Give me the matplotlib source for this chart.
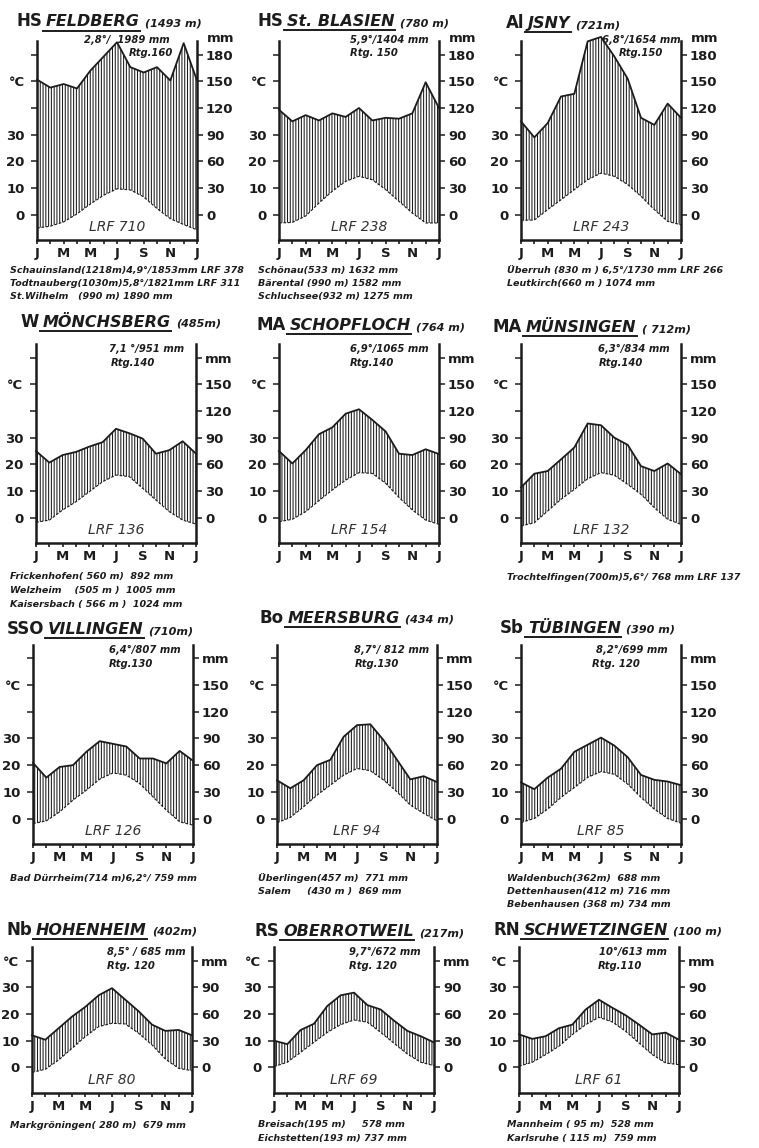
import matplotlib
matplotlib.use("Agg")

import matplotlib.pyplot as plt
from matplotlib.lines import Line2D
import numpy as np

plt.rcParams["font.family"] = ["DejaVu Sans"]
plt.rcParams["hatch.linewidth"] = 0.75

W, H = 759, 1148
INK = "#1c1c1c"

# ---------------- data ----------------
MONTHS = ["J", "", "M", "", "M", "", "J", "", "S", "", "N", "", "J"]

CODES = ["HS", "HS", "Al", "W", "MA", "MA", "SSO", "Bo", "Sb", "Nb", "RS", "RN"]
NAMES = ["FELDBERG", "St. BLASIEN", "JSNY", "MÖNCHSBERG", "SCHOPFLOCH", "MÜNSINGEN",
         "VILLINGEN", "MEERSBURG", "TÜBINGEN", "HOHENHEIM", "OBERROTWEIL", "SCHWETZINGEN"]
HEIGHTS = ["(1493 m)", "(780 m)", "(721m)", "(485m)", "(764 m)", "( 712m)",
           "(710m)", "(434 m)", "(390 m)", "(402m)", "(217m)", "(100 m)"]
ANNUAL = ["2,8°/  1989 mm", "5,9°/1404 mm", "6,8°/1654 mm", "7,1 °/951 mm", "6,9°/1065 mm",
          "6,3°/834 mm", "6,4°/807 mm", "8,7°/ 812 mm", "8,2°/699 mm", "8,5° / 685 mm",
          "9,7°/672 mm", "10°/613 mm"]
RTG = ["Rtg.160", "Rtg. 150", "Rtg.150", "Rtg.140", "Rtg.140", "Rtg.140",
       "Rtg.130", "Rtg.130", "Rtg. 120", "Rtg. 120", "Rtg. 120", "Rtg.110"]
LRF = ["LRF 710", "LRF 238", "LRF 243", "LRF 136", "LRF 154", "LRF 132",
       "LRF 126", "LRF 94", "LRF 85", "LRF 80", "LRF 69", "LRF 61"]
NOTES = [
    ["Schauinsland(1218m)4,9°/1853mm LRF 378",
     "Todtnauberg(1030m)5,8°/1821mm LRF 311",
     "St.Wilhelm   (990 m) 1890 mm"],
    ["Schönau(533 m) 1632 mm", "Bärental (990 m) 1582 mm", "Schluchsee(932 m) 1275 mm"],
    ["Überruh (830 m ) 6,5°/1730 mm LRF 266", "Leutkirch(660 m ) 1074 mm"],
    ["Frickenhofen( 560 m)  892 mm", "Welzheim    (505 m )  1005 mm",
     "Kaisersbach ( 566 m )  1024 mm"],
    [],
    ["Trochtelfingen(700m)5,6°/ 768 mm LRF 137"],
    ["Bad Dürrheim(714 m)6,2°/ 759 mm"],
    ["Überlingen(457 m)  771 mm", "Salem     (430 m )  869 mm"],
    ["Waldenbuch(362m)  688 mm", "Dettenhausen(412 m) 716 mm", "Bebenhausen (368 m) 734 mm"],
    ["Markgröningen( 280 m)  679 mm"],
    ["Breisach(195 m)     578 mm", "Eichstetten(193 m) 737 mm"],
    ["Mannheim ( 95 m)  528 mm", "Karlsruhe ( 115 m)  759 mm"],
]

# monthly temperature (°C) and precipitation (mm), Jan ... Dec, Jan
TEMP_FELDBERG = [-5.0, -4.3, -2.7, 0.3, 4.0, 7.3, 9.7, 9.3, 6.7, 2.3, -1.5, -3.7, -5.7]
PREC_FELDBERG = [152, 143, 147, 142, 162, 178, 194, 166, 160, 166, 151, 193, 151]
TEMP_BLASIEN = [-3.1, -2.9, -0.5, 4.4, 8.8, 12.5, 14.4, 13.1, 9.4, 5.0, 0.6, -3.1, -3.1]
PREC_BLASIEN = [118, 105, 112, 106, 114, 110, 120, 106, 109, 108, 114, 149, 120]
TEMP_ISNY = [-2.1, -2.0, 1.9, 5.6, 9.4, 13.1, 15.6, 14.4, 11.3, 6.9, 1.9, -2.5, -3.8]
PREC_ISNY = [105, 87, 103, 133, 136, 195, 200, 178, 153, 109, 101, 125, 109]
TEMP_MOENCHSBERG = [-1.75, -0.9, 2.9, 6.0, 9.75, 13.5, 16.0, 15.4, 11.0, 6.6, 2.25, -0.9, -2.4]
PREC_MOENCHSBERG = [75, 62, 70.5, 74, 80, 85, 100, 95, 89, 72, 76, 86, 72]
TEMP_SCHOPFLOCH = [-1.5, -0.6, 2.25, 6.4, 10.4, 14.1, 16.9, 16.6, 12.9, 7.6, 2.9, -0.9, -2.5]
PREC_SCHOPFLOCH = [75, 61, 76, 94, 101.6, 117, 122, 110, 97, 72, 70.5, 77, 71.6]
TEMP_MUENSINGEN = [-3.1, -1.9, 2.5, 6.9, 10.6, 14.6, 16.9, 15.9, 12.5, 8.75, 3.75, -0.6, -2.5]
PREC_MUENSINGEN = [34, 49.5, 52.5, 65.6, 79, 106, 104, 90, 82, 58, 52.5, 61, 49]
TEMP_VILLINGEN = [-1.9, -0.9, 2.5, 6.9, 10.6, 14.75, 17.1, 16.25, 13.1, 8.1, 3.1, -1.25, -2.5]
PREC_VILLINGEN = [62.6, 46, 58, 60, 75, 87, 84, 81, 67.5, 67.5, 62, 76, 65]
TEMP_MEERSBURG = [-1.6, 0.4, 4.4, 8.75, 12.5, 16.25, 18.75, 17.9, 14.4, 10.0, 5.0, 1.9, -0.9]
PREC_MEERSBURG = [43, 34, 43, 60, 66, 92, 105, 106, 88, 66, 44, 47.6, 41]
TEMP_TUEBINGEN = [-1.5, 0.0, 3.5, 7.9, 11.6, 15.4, 17.6, 16.6, 12.9, 7.9, 3.5, 0.0, -1.75]
PREC_TUEBINGEN = [40.5, 33, 46, 56, 75, 83, 91, 82, 69, 49, 43.5, 41.6, 37.5]
TEMP_HOHENHEIM = [-1.9, -0.75, 2.75, 7.1, 11.5, 15.25, 16.5, 16.25, 12.75, 8.4, 3.1, -0.4, -1.25]
PREC_HOHENHEIM = [36, 31, 44, 57, 68, 81, 89, 76, 63, 48, 41, 42, 36]
TEMP_OBERROTWEIL = [0.25, 1.9, 5.6, 9.4, 13.1, 16.0, 17.75, 16.9, 13.1, 9.0, 5.0, 1.9, 0.6]
PREC_OBERROTWEIL = [30, 26, 42, 49, 69, 81, 84, 70, 65, 52.5, 41, 35, 28]
TEMP_SCHWETZINGEN = [0.4, 1.9, 4.75, 7.9, 12.25, 16.0, 18.75, 17.0, 13.5, 9.1, 4.75, 1.6, 1.0]
PREC_SCHWETZINGEN = [37, 32, 35, 44, 48, 65, 76, 67, 58.5, 48, 37, 39, 31]

TEMPS = [TEMP_FELDBERG, TEMP_BLASIEN, TEMP_ISNY, TEMP_MOENCHSBERG, TEMP_SCHOPFLOCH,
         TEMP_MUENSINGEN, TEMP_VILLINGEN, TEMP_MEERSBURG, TEMP_TUEBINGEN,
         TEMP_HOHENHEIM, TEMP_OBERROTWEIL, TEMP_SCHWETZINGEN]
PRECS = [PREC_FELDBERG, PREC_BLASIEN, PREC_ISNY, PREC_MOENCHSBERG, PREC_SCHOPFLOCH,
         PREC_MUENSINGEN, PREC_VILLINGEN, PREC_MEERSBURG, PREC_TUEBINGEN,
         PREC_HOHENHEIM, PREC_OBERROTWEIL, PREC_SCHWETZINGEN]

# ---------------- layout (pixels) ----------------
PX_PER_MM = 0.8889
YMIN = -29
ROW_YMAX = [195, 195, 195, 135]
ROW_ZERO = [214.7, 517.7, 818.5, 1067.3]
COL_LEFT = [[37, 279, 521], [36, 279, 521], [33, 277, 521], [32, 274, 519]]
AX_W = 160
TITLE_BASE = [26.5, 26, 28, 327, 330, 332, 634, 623, 633, 935, 936, 935]
NAME_DX = [9, 8, 7, 7, 11, 5, 15, 11, 7, 4, 9, 5]
STAT_X = [3.5, 5.3, 6.1, 5.5, 5.3, 5.8, 5.7, 5.8, 5.6, 5.6, 5.6, 6.0]
RTG_X = [6.9, 5.3, 7.3, 5.6, 5.3, 5.8, 5.7, 5.8, 5.3, 5.6, 5.6, 5.9]
STAT_Y = [(197, 182), (190, 174), (190, 174), (130, 114)]
NOTE_X = [10, 258, 507]
NOTE_Y = [270, 577, 878, 1125]
NOTE_STEP = 13.5


def fig_xy(x, y):
    return x / W, 1 - y / H


fig = plt.figure(figsize=(W / 100, H / 100), dpi=100)
fig.patch.set_facecolor("white")

name_texts = []

for i in range(12):
    row, col = divmod(i, 3)
    ymax = ROW_YMAX[row]
    left = COL_LEFT[row][col]
    zero = ROW_ZERO[row]
    bottom_px = zero - YMIN * PX_PER_MM
    height_px = (ymax - YMIN) * PX_PER_MM
    ax = fig.add_axes([left / W, 1 - bottom_px / H, AX_W / W, height_px / H])

    x = np.arange(13)
    t_mm = np.array(TEMPS[i]) * 3.0
    p = np.array(PRECS[i], dtype=float)

    ax.fill_between(x, t_mm, p, where=p >= t_mm, interpolate=True, clip_on=False,
                    facecolor="none", edgecolor=INK, hatch="||||||", linewidth=0, zorder=1)
    ax.plot(x, p, color=INK, lw=1.3, zorder=3, clip_on=False)
    ax.plot(x, t_mm, color=INK, lw=0.8, ls=(0, (2.5, 1.5)), zorder=3)

    ax.set_xlim(0, 12)
    ax.set_ylim(YMIN, ymax)
    ax.set_facecolor("none")
    ax.spines["top"].set_visible(False)
    for s in ("left", "right", "bottom"):
        ax.spines[s].set_linewidth(1.8)
        ax.spines[s].set_color(INK)

    ax.set_xticks(x, MONTHS, fontsize=9.5, fontweight="bold", color=INK)
    ax.tick_params(axis="x", direction="out", length=3, width=1.2, pad=2, colors=INK)

    yt = np.arange(0, ymax, 30)
    left_labels = ["0", "10", "20", "30"] + [""] * (len(yt) - 4)
    left_labels[5 if row < 3 else 4] = "°C"
    ax.set_yticks(yt, left_labels, fontsize=9.5, fontweight="bold", color=INK)
    ax.tick_params(axis="y", direction="out", length=4, width=1.1, pad=5, colors=INK)

    ax_r = ax.twinx()
    ax_r.set_ylim(YMIN, ymax)
    for s in ax_r.spines.values():
        s.set_visible(False)
    right_labels = [str(int(v)) for v in yt]
    if row > 0:
        right_labels[-1] = "mm"
    ax_r.set_yticks(yt, right_labels, fontsize=9.5, fontweight="bold", color=INK)
    ax_r.tick_params(axis="y", direction="out", length=4, width=1.1, pad=2.5, colors=INK)
    if row == 0:
        ax.text(1.06, 198, "mm", transform=ax.get_yaxis_transform(), fontsize=9.5,
                fontweight="bold", color=INK, ha="left", va="center")

    # in-panel annotations
    sy1, sy2 = STAT_Y[row]
    ax.text(STAT_X[i], sy1, ANNUAL[i], fontsize=7.2, style="italic", fontweight="bold",
            color=INK, ha="left", va="center", zorder=5)
    ax.text(RTG_X[i], sy2, RTG[i], fontsize=7.2, style="italic", fontweight="bold",
            color=INK, ha="left", va="center", zorder=5)
    ax.text(6, -14, LRF[i], fontsize=10, style="italic", color="#333333",
            ha="center", va="center", zorder=5)

    # title: code, underlined name, altitude
    ty = TITLE_BASE[i]
    nx, ny = fig_xy(left + NAME_DX[i], ty)
    name_t = fig.text(nx, ny, NAMES[i], fontsize=11.5, style="italic", fontweight="bold",
                      color=INK, ha="left", va="baseline")
    name_texts.append((name_t, ty))
    ax.annotate(CODES[i], xy=(0, H - ty), xycoords=(name_t, "figure pixels"),
                xytext=(-4, 0), textcoords="offset pixels", fontsize=12, fontweight="bold",
                color=INK, ha="right", va="baseline", annotation_clip=False)
    ax.annotate(HEIGHTS[i], xy=(1, H - ty), xycoords=(name_t, "figure pixels"),
                xytext=(5, 0), textcoords="offset pixels", fontsize=8, style="italic",
                fontweight="bold", color=INK, ha="left", va="baseline", annotation_clip=False)

    # neighbouring stations below the panel
    for j, line in enumerate(NOTES[i]):
        fx, fy = fig_xy(NOTE_X[col], NOTE_Y[row] + NOTE_STEP * j)
        fig.text(fx, fy, line, fontsize=6.8, style="italic", fontweight="bold",
                 color=INK, ha="left", va="center")

# underline station names
fig.canvas.draw()
for name_t, ty in name_texts:
    bb = name_t.get_window_extent()
    y = H - ty - 4
    fig.add_artist(Line2D([(bb.x0 - 3) / W, bb.x1 / W], [y / H, y / H],
                          transform=fig.transFigure, color=INK, lw=1.4))

fig.savefig("out.png", dpi=100, facecolor="white")
plt.close(fig)
